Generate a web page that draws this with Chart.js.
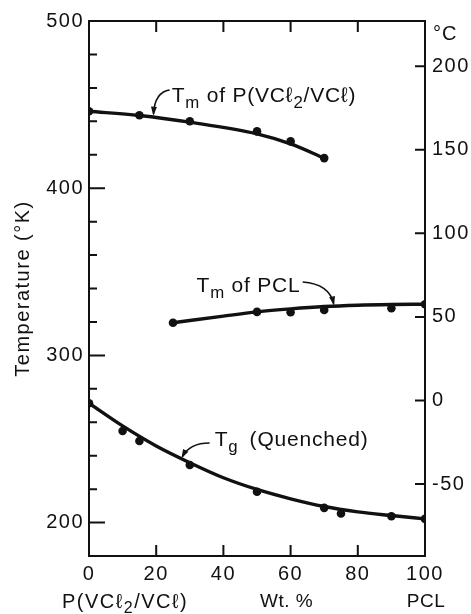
<!DOCTYPE html>
<html><head><meta charset="utf-8">
<script src="https://cdn.jsdelivr.net/npm/chart.js@4"></script>
<style>html,body{margin:0;padding:0;background:#fff}</style>
</head><body>
<canvas id="c" width="471" height="614"></canvas>
<script>
// ---- data ----
const xTicks = [0, 20, 40, 60, 80, 100];          // Wt. % PCL
const kelvinTicks = [200, 300, 400, 500];
const celsiusTicks = [-50, 0, 50, 100, 150, 200];

// Tm of P(VCl2/VCl): measured points and drawn curve
const tmPvcX = [0, 15, 30, 50, 60, 70];
const tmPvcK = [446, 443.6, 440, 434, 428, 418];
const tmPvcCurveX = [0, 15, 30, 50, 60, 70];
const tmPvcCurveK = [446, 443.5, 439.5, 432.5, 426.5, 418];

// Tm of PCL
const tmPclX = [25, 50, 60, 70, 90, 100];
const tmPclK = [319.5, 326, 325.8, 327.2, 328.2, 330.6];
const tmPclCurveX = [25, 40, 50, 60, 70, 80, 90, 100];
const tmPclCurveK = [319.5, 323.5, 326, 327.8, 329.2, 330, 330.4, 330.6];

// Tg (Quenched)
const tgX = [0, 10, 15, 30, 50, 70, 75, 90, 100];
const tgK = [271.4, 254.8, 248.8, 234.4, 218.4, 208.8, 205.4, 203.8, 202.2];
const tgCurveX = [0, 10, 20, 30, 40, 50, 60, 70, 80, 90, 100];
const tgCurveK = [271.4, 257.8, 245.8, 235.8, 226.8, 219.8, 214.2, 209.6, 206.4, 204.2, 202.2];

const K0 = 273;
const FONT = "'Liberation Sans', Arial, sans-serif";
const INK = '#111';

const pts = (xs, ys) => xs.map((x, i) => ({x, y: ys[i]}));

function curveDs(xs, ys) {
  return {data: pts(xs, ys), showLine: true, borderColor: INK, borderWidth: 3.4,
    pointRadius: 0, cubicInterpolationMode: 'monotone', fill: false, order: 2};
}
function pointDs(xs, ys) {
  return {data: pts(xs, ys), showLine: false, pointRadius: 4.3,
    pointBackgroundColor: INK, pointBorderColor: INK, pointBorderWidth: 0, order: 1};
}

function drawRich(ctx, x, y, parts, size) {
  ctx.textBaseline = 'middle';
  ctx.textAlign = 'left';
  let cx = x;
  for (const p of parts) {
    const fs = p.sub ? size * 0.8 : size;
    ctx.font = fs + 'px ' + FONT;
    ctx.fillText(p.t, cx, p.sub ? y + size * 0.35 : y);
    cx += ctx.measureText(p.t).width;
  }
}
function arrow(ctx, p0, c, p1) {
  ctx.beginPath();
  ctx.moveTo(p0[0], p0[1]);
  ctx.quadraticCurveTo(c[0], c[1], p1[0], p1[1]);
  ctx.lineWidth = 1.6;
  ctx.strokeStyle = INK;
  ctx.stroke();
  const a = Math.atan2(p1[1] - c[1], p1[0] - c[0]);
  const L = 7, W = 3;
  ctx.beginPath();
  ctx.moveTo(p1[0] + Math.cos(a) * 2, p1[1] + Math.sin(a) * 2);
  ctx.lineTo(p1[0] - Math.cos(a) * L + Math.sin(a) * W, p1[1] - Math.sin(a) * L - Math.cos(a) * W);
  ctx.lineTo(p1[0] - Math.cos(a) * L - Math.sin(a) * W, p1[1] - Math.sin(a) * L + Math.cos(a) * W);
  ctx.closePath();
  ctx.fillStyle = INK;
  ctx.fill();
}

const spacing = {
  id: 'spacing',
  beforeDraw(chart) { chart.ctx.letterSpacing = '1.5px'; }
};

const frame = {
  id: 'frame',
  afterDraw(chart) {
    const {ctx, chartArea: a, scales} = chart;
    const xs = scales.x, ys = scales.y, yc = scales.yC;
    ctx.save();
    ctx.letterSpacing = '0px';
    ctx.strokeStyle = INK;
    ctx.lineWidth = 2;
    ctx.strokeRect(a.left, a.top, a.right - a.left, a.bottom - a.top);
    ctx.beginPath();
    // x ticks, inward at bottom and top
    for (const v of xTicks) {
      if (v === 0 || v === 100) continue;
      const px = xs.getPixelForValue(v);
      ctx.moveTo(px, a.bottom); ctx.lineTo(px, a.bottom - 11);
      ctx.moveTo(px, a.top); ctx.lineTo(px, a.top + 11);
    }
    // left K ticks: every 20, majors every 100
    for (let v = 200; v < 500; v += 20) {
      const py = ys.getPixelForValue(v);
      const len = (v % 100 === 0) ? 16 : 8;
      ctx.moveTo(a.left, py); ctx.lineTo(a.left + len, py);
    }
    // right C ticks
    for (const v of celsiusTicks) {
      const py = yc.getPixelForValue(v);
      ctx.moveTo(a.right, py); ctx.lineTo(a.right - 10, py);
    }
    ctx.stroke();

    ctx.fillStyle = INK;
    ctx.letterSpacing = '0.8px';
    // annotations (positions in data space)
    const P = (x, k) => [xs.getPixelForValue(x), ys.getPixelForValue(k)];
    let t = P(24.6, 455.3);
    drawRich(ctx, t[0], t[1], [{t: 'T'}, {t: 'm', sub: true}, {t: ' of P(VCℓ'}, {t: '2', sub: true}, {t: '/VCℓ)'}], 21);
    t = P(32.0, 341.5);
    drawRich(ctx, t[0], t[1], [{t: 'T'}, {t: 'm', sub: true}, {t: ' of PCL'}], 21);
    t = P(37.4, 249.4);
    drawRich(ctx, t[0], t[1], [{t: 'T'}, {t: 'g', sub: true}], 21);
    t = P(47.8, 249.4);
    drawRich(ctx, t[0], t[1], [{t: '(Quenched)'}], 21);
    ctx.letterSpacing = '0px';
    arrow(ctx, P(24.0, 458.7), P(19.6, 457.5), P(19.2, 444.5));
    arrow(ctx, P(63.6, 343.9), P(71.5, 342.7), P(72.8, 331.0));
    arrow(ctx, P(35.9, 247.6), P(30.0, 247.6), P(27.8, 239.5));

    // °C unit label and composition labels under the axis
    ctx.letterSpacing = '1px';
    drawRich(ctx, a.right + 8, a.top + 13, [{t: '°C'}], 20);
    const yb = a.bottom + 46;
    ctx.letterSpacing = '1.5px';
    drawRich(ctx, a.left - 27, yb, [{t: 'P(VCℓ'}, {t: '2', sub: true}, {t: '/VCℓ)'}], 20);
    ctx.letterSpacing = '0.5px';
    ctx.textAlign = 'center';
    ctx.font = '19px ' + FONT;
    ctx.fillText('Wt. %', xs.getPixelForValue(58.8), yb);
    ctx.fillText('PCL', xs.getPixelForValue(100) + 1, yb);
    ctx.restore();
  }
};

const tickFont = {family: FONT, size: 20};
const noGrid = {display: false, drawTicks: false};

new Chart(document.getElementById('c'), {
  type: 'scatter',
  data: {
    datasets: [
      curveDs(tmPvcCurveX, tmPvcCurveK), pointDs(tmPvcX, tmPvcK),
      curveDs(tmPclCurveX, tmPclCurveK), pointDs(tmPclX, tmPclK),
      curveDs(tgCurveX, tgCurveK), pointDs(tgX, tgK)
    ]
  },
  options: {
    responsive: false,
    animation: false,
    devicePixelRatio: 1,
    layout: {padding: {top: 21, bottom: 0, left: 0, right: 0}},
    plugins: {legend: {display: false}, tooltip: {enabled: false}},
    elements: {point: {hoverRadius: 4}},
    scales: {
      x: {
        type: 'linear', position: 'bottom', min: 0, max: 100,
        afterBuildTicks: s => { s.ticks = xTicks.map(v => ({value: v})); },
        afterFit: s => { s.height = 58; },
        grid: noGrid, border: {display: false},
        ticks: {font: tickFont, color: INK, padding: 6, maxRotation: 0}
      },
      y: {
        type: 'linear', position: 'left', min: 180, max: 500,
        afterBuildTicks: s => { s.ticks = kelvinTicks.map(v => ({value: v})); },
        afterFit: s => { s.width = 89; },
        grid: noGrid, border: {display: false},
        ticks: {font: tickFont, color: INK, padding: 5},
        title: {display: true, text: 'Temperature (°K)', color: INK,
          font: {family: FONT, size: 20}, padding: {top: 11, bottom: 0}}
      },
      yC: {
        type: 'linear', position: 'right', min: 180 - K0, max: 500 - K0,
        afterBuildTicks: s => { s.ticks = celsiusTicks.map(v => ({value: v})); },
        afterFit: s => { s.width = 46; },
        grid: noGrid, border: {display: false},
        ticks: {font: tickFont, color: INK, padding: 7}
      }
    }
  },
  plugins: [spacing, frame]
});
</script>
</body></html>
